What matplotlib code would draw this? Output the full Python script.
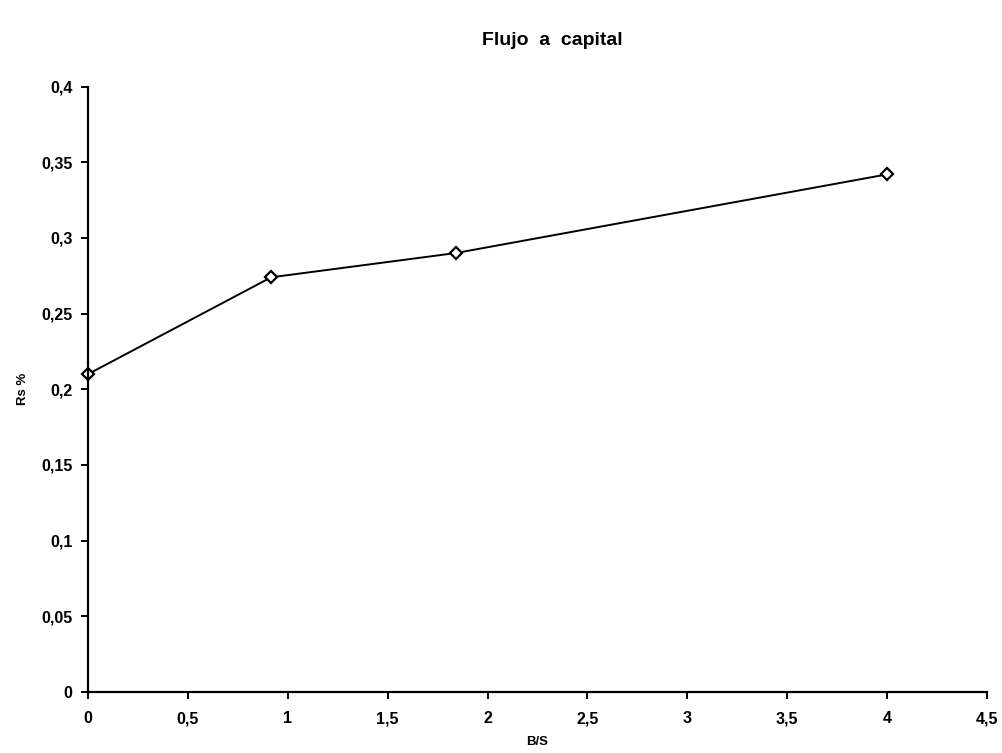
import matplotlib
matplotlib.use("Agg")
import matplotlib.pyplot as plt

# Data: leverage ratio B/S vs. return on equity Rs
bs_ratio = [0.0, 0.917, 1.84, 4.0]
rs_values = [0.210, 0.274, 0.290, 0.342]

x_ticks = [0, 0.5, 1, 1.5, 2, 2.5, 3, 3.5, 4, 4.5]
x_tick_labels = ["0", "0,5", "1", "1,5", "2", "2,5", "3", "3,5", "4", "4,5"]
y_ticks = [0, 0.05, 0.1, 0.15, 0.2, 0.25, 0.3, 0.35, 0.4]
y_tick_labels = ["0", "0,05", "0,1", "0,15", "0,2", "0,25", "0,3", "0,35", "0,4"]

plt.rcParams["font.family"] = ["Liberation Sans", "DejaVu Sans"]
plt.rcParams["font.weight"] = "bold"

fig = plt.figure(figsize=(10.02, 7.53), dpi=100)
ax = fig.add_axes([0.0878, 0.081, 0.8972, 0.804])

ax.plot(bs_ratio, rs_values, color="black", linewidth=1.4,
        marker="D", markersize=6, markerfacecolor="white",
        markeredgecolor="black", markeredgewidth=1.6, clip_on=False)

ax.set_xlim(0, 4.5)
ax.set_ylim(0, 0.4)
ax.set_xticks(x_ticks)
ax.set_xticklabels(x_tick_labels, fontsize=11.5, fontweight="bold")
ax.set_yticks(y_ticks)
ax.set_yticklabels(y_tick_labels, fontsize=11.5, fontweight="bold")

for side in ("top", "right"):
    ax.spines[side].set_visible(False)
for side in ("left", "bottom"):
    ax.spines[side].set_linewidth(1.6)
    ax.spines[side].set_color("black")

ax.tick_params(axis="both", direction="out", length=5, width=1.4,
               colors="black")
ax.tick_params(axis="x", pad=9)
ax.tick_params(axis="y", pad=6)

ax.set_xlabel("B/S", fontsize=9.5, fontweight="bold", labelpad=7)
ax.set_ylabel("Rs %", fontsize=9.5, fontweight="bold", labelpad=9)

fig.text(0.551, 0.946, "Flujo  a  capital", ha="center", va="center",
         fontsize=14, fontweight="bold")

fig.savefig("out.png", dpi=100, facecolor="white")
